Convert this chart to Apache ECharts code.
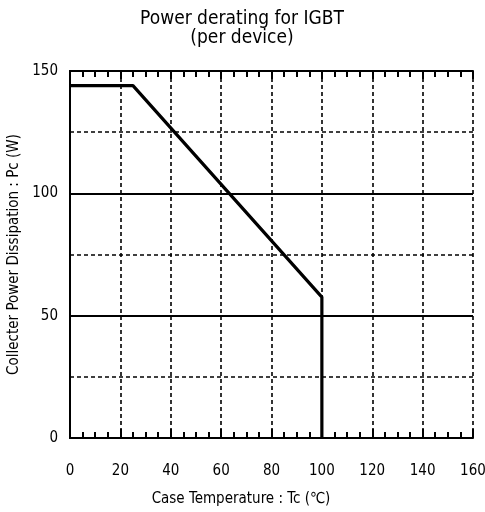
<!DOCTYPE html>
<html><head><meta charset="utf-8">
<script src="https://cdn.jsdelivr.net/npm/echarts@6/dist/echarts.min.js"></script>
<style>html,body{margin:0;padding:0;background:#fff}#c{width:485px;height:512px}</style>
</head><body><div id="c"></div>
<script>
const titleText = 'Power derating for IGBT\n(per device)';
const xName = 'Case Temperature : Tc (℃)';
const yName = 'Collecter Power Dissipation : Pc (W)';
const xTicks = [0, 20, 40, 60, 80, 100, 120, 140, 160];
const yTicks = [0, 50, 100, 150];
const tempC = [0, 25, 100, 100];
const powerW = [144, 144, 57.6, 0];

const FONT = '"Liberation Sans Narrow", "DejaVu Sans Condensed", "Noto Sans", sans-serif';
const chart = echarts.init(document.getElementById('c'));
chart.setOption({
  animation: false,
  backgroundColor: '#fff',
  title: [
    { text: titleText, left: 237, top: 5, textAlign: 'center',
      textStyle: { fontFamily: FONT, fontSize: 19, fontWeight: 'normal', color: '#000', lineHeight: 19 } },
    { text: xName, left: 236, top: 487, textAlign: 'center',
      textStyle: { fontFamily: FONT, fontSize: 15, fontWeight: 'normal', color: '#000' } }
  ],
  grid: { left: 70, right: 12, top: 71, bottom: 74, containLabel: false, outerBoundsMode: 'none' },
  xAxis: [
    { type: 'value', min: xTicks[0], max: xTicks[xTicks.length - 1], interval: 20, position: 'bottom',
      axisLine: { show: true, lineStyle: { color: '#000', width: 2 } },
      axisTick: { show: true, inside: true, length: 9, lineStyle: { color: '#000', width: 2 } },
      minorTick: { show: true, splitNumber: 4, length: 6, lineStyle: { color: '#000', width: 2 } },
      axisLabel: { fontFamily: FONT, fontSize: 15, color: '#000', margin: 26 },
      splitLine: { show: true, lineStyle: { color: '#000', type: [4, 3], width: 1.6 } } },
    { type: 'value', min: xTicks[0], max: xTicks[xTicks.length - 1], interval: 20, position: 'top',
      axisLine: { show: true, onZero: false, lineStyle: { color: '#000', width: 2 } },
      axisTick: { show: true, inside: true, length: 8, lineStyle: { color: '#000', width: 2 } },
      minorTick: { show: true, splitNumber: 4, length: 6, lineStyle: { color: '#000', width: 2 } },
      axisLabel: { show: false }, splitLine: { show: false } }
  ],
  yAxis: [
    { type: 'value', min: yTicks[0], max: yTicks[yTicks.length - 1], interval: 25, position: 'left',
      name: yName, nameLocation: 'middle', nameGap: 46,
      nameTextStyle: { fontFamily: FONT, fontSize: 15, color: '#000' },
      axisLine: { show: true, lineStyle: { color: '#000', width: 2 } },
      axisTick: { show: false },
      axisLabel: { fontFamily: FONT, fontSize: 15, color: '#000', margin: 12,
        formatter: v => (yTicks.indexOf(v) >= 0 ? String(v) : '') },
      splitLine: { show: true, lineStyle: { color: '#000', type: [4, 3], width: 1.6 } } },
    { type: 'value', min: yTicks[0], max: yTicks[yTicks.length - 1], interval: 50, position: 'right',
      axisLine: { show: true, lineStyle: { color: '#000', width: 2 } },
      axisTick: { show: false }, axisLabel: { show: false },
      splitLine: { show: true, lineStyle: { color: '#000', type: 'solid', width: 1.8 } } }
  ],
  series: [{
    type: 'line', xAxisIndex: 0, yAxisIndex: 0, symbol: 'none', z: 10,
    lineStyle: { color: '#000', width: 3.2 },
    data: tempC.map((t, i) => [t, powerW[i]])
  }]
});
</script></body></html>
